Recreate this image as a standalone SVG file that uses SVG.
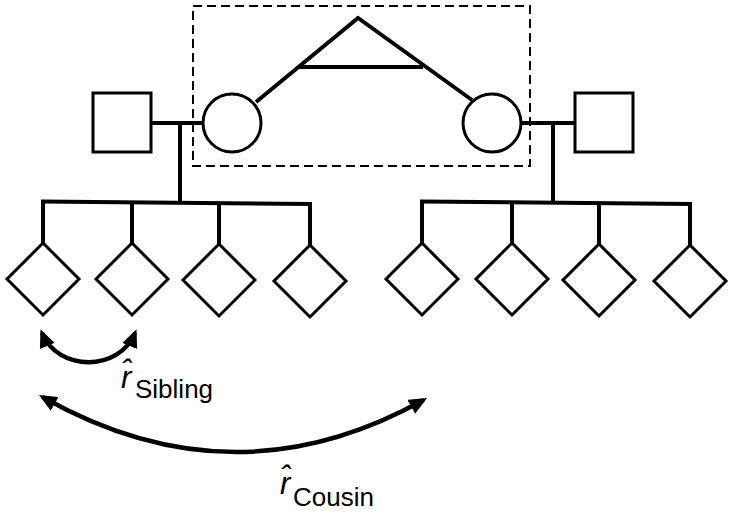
<svg xmlns="http://www.w3.org/2000/svg" width="732" height="513" viewBox="0 0 732 513">
<style>
.shape{fill:#fff;stroke:#000;stroke-width:3}
.line{fill:none;stroke:#000;stroke-width:4}
.arc{fill:none;stroke:#000;stroke-width:4.5}
.dash{fill:none;stroke:#000;stroke-width:2;stroke-dasharray:9 5}
.lbl{font-family:"Liberation Sans",Arial,sans-serif;fill:#000}
</style>
<defs>
<marker id="ah" viewBox="0 0 18 16" refX="14" refY="8" markerWidth="18" markerHeight="16" markerUnits="userSpaceOnUse" orient="auto-start-reverse">
<path d="M0,0 L18,8 L0,16 z" fill="#000"/>
</marker>
</defs>
<rect class="dash" x="193" y="6" width="337" height="160"/>
<g id="connectors">
<path class="line" d="M256,102 L358,18 L472,100"/>
<path class="line" d="M298,67 L423,67"/>
<path class="line" d="M151,123 L203,123"/>
<path class="line" d="M180,123 L180,202"/>
<path class="line" d="M521,123 L575,123"/>
<path class="line" d="M553,123 L553,202"/>
<path class="line" d="M41,201.5 L312,204"/>
<path class="line" d="M43,201.5 L43,243 M132,202.5 L132,243 M219,203 L219,244 M310,204 L310,245"/>
<path class="line" d="M420,201.5 L692,204"/>
<path class="line" d="M422,201.5 L422,243 M512,202.5 L512,243 M599,203 L599,244 M690,204 L690,245"/>
<path class="arc" d="M42,333 C58,372 119,372 135,333" marker-start="url(#ah)" marker-end="url(#ah)"/>
<path class="arc" d="M42.5,397 Q234,505.5 423.5,400" marker-start="url(#ah)" marker-end="url(#ah)"/>
</g>
<g id="father1"><rect class="shape" x="93" y="93" width="58" height="59"/></g>
<g id="mother1"><circle class="shape" cx="232" cy="123" r="29"/></g>
<g id="mother2"><circle class="shape" cx="492" cy="123" r="29"/></g>
<g id="father2"><rect class="shape" x="575" y="93" width="58" height="59"/></g>
<g id="c1"><path class="shape" d="M43,243 L79,279 L43,315 L7,279 z"/></g>
<g id="c2"><path class="shape" d="M132,243 L168,279 L132,315 L96,279 z"/></g>
<g id="c3"><path class="shape" d="M219,244 L255,280 L219,316 L183,280 z"/></g>
<g id="c4"><path class="shape" d="M310,245 L346,281 L310,317 L274,281 z"/></g>
<g id="c5"><path class="shape" d="M422,243 L458,279 L422,315 L386,279 z"/></g>
<g id="c6"><path class="shape" d="M512,243 L548,279 L512,315 L476,279 z"/></g>
<g id="c7"><path class="shape" d="M599,244 L635,280 L599,316 L563,280 z"/></g>
<g id="c8"><path class="shape" d="M690,245 L726,281 L690,317 L654,281 z"/></g>
<g id="label-sibling">
<text class="lbl" x="121" y="388" font-size="31" font-style="italic">r̂</text>
<text class="lbl" x="135" y="398" font-size="26">Sibling</text>
</g>
<g id="label-cousin">
<text class="lbl" x="280" y="494" font-size="31" font-style="italic">r̂</text>
<text class="lbl" x="293" y="506" font-size="26">Cousin</text>
</g>
</svg>
